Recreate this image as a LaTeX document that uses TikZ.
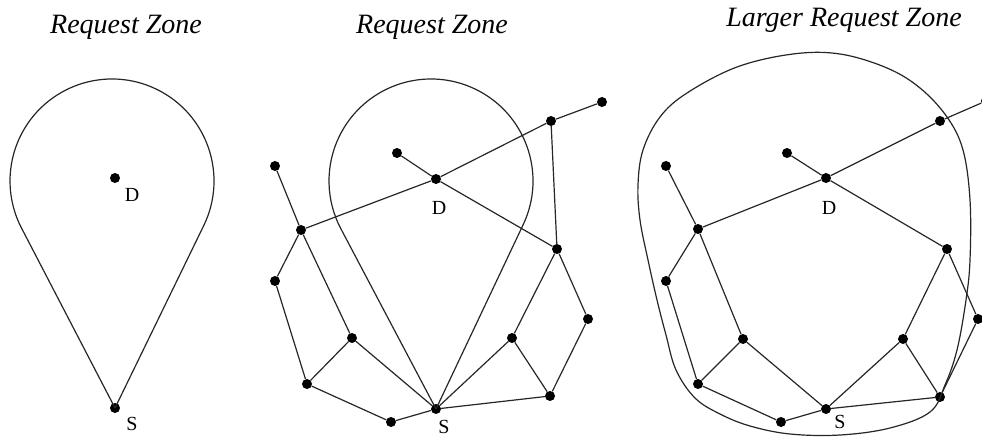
\documentclass[tikz,border=0pt]{standalone}
\usepackage{fontspec}
\setmainfont{Liberation Serif}
\usetikzlibrary{calc}
\begin{document}
\begin{tikzpicture}[x=1pt,y=-1pt,
  nd/.style={circle,fill=black,inner sep=0pt,minimum size=10pt},
  edge/.style={line width=1.2pt,black!85},
  zone/.style={line width=1.2pt,black!85},
  title/.style={font=\fontsize{28}{30}\selectfont\itshape},
  lab/.style={font=\fontsize{20}{21}\selectfont}]
\useasboundingbox (0,0) rectangle (982,438);
\clip (0,0) rectangle (982,438);

% titles
\node[title] (t1) at (126,27) {Request Zone};
\node[title] (t2) at (432,27) {Request Zone};
\node[title] (t3) at (844,20) {Larger Request Zone};

% ---------- panel 1 ----------
\coordinate (C1) at (112,181);
\node[nd] (D1) at (115,178) {};
\node[nd] (S1) at (115,408) {};
\draw[zone] (S1.center) -- ($(C1)+(25.94:102)$) arc[start angle=25.94,end angle=-207.46,radius=102] -- (S1.center);
\node[lab] (LD1) at (132,195) {D};
\node[lab] (LS1) at (132,424) {S};

% ---------- panel 2 ----------
\coordinate (C2) at (431,181);
\node[nd] (a2) at (275,166) {};
\node[nd] (b2) at (301,230) {};
\node[nd] (c2) at (275,281) {};
\node[nd] (d2) at (352,338) {};
\node[nd] (e2) at (307,384) {};
\node[nd] (f2) at (391,422) {};
\node[nd] (S2) at (436,409) {};
\node[nd] (g2) at (397,153) {};
\node[nd] (D2) at (436,179) {};
\node[nd] (h2) at (551,121) {};
\node[nd] (i2) at (602,102) {};
\node[nd] (j2) at (557,249) {};
\node[nd] (k2) at (588,319) {};
\node[nd] (l2) at (512,338) {};
\node[nd] (m2) at (550,396) {};
\draw[zone] (S2.center) -- ($(C2)+(25.31:102)$) arc[start angle=25.31,end angle=-207.83,radius=102] -- (S2.center);
\draw[edge] (a2)--(b2) (b2)--(d2) (b2)--(D2) (D2)--(h2) (h2)--(i2)
  (g2)--(D2) (D2)--(j2) (h2)--(j2) (b2)--(c2) (c2)--(e2) (e2)--(d2)
  (d2)--(S2) (e2)--(f2) (f2)--(S2) (j2)--(l2) (l2)--(S2) (l2)--(m2)
  (j2)--(k2) (k2)--(m2) (m2)--(S2);
\node[lab] (LD2) at (439,208) {D};
\node[lab] (LS2) at (444,427) {S};

% ---------- panel 3 ----------
\node[nd] (a3) at (666,166) {};
\node[nd] (b3) at (698,229) {};
\node[nd] (c3) at (666,281) {};
\node[nd] (d3) at (743,339) {};
\node[nd] (e3) at (698,384) {};
\node[nd] (f3) at (781,422) {};
\node[nd] (S3) at (826,409) {};
\node[nd] (g3) at (787,153) {};
\node[nd] (D3) at (826,178) {};
\node[nd] (h3) at (940,121) {};
\node[nd] (i3) at (986,101) {};
\node[nd] (j3) at (947,249) {};
\node[nd] (k3) at (978,319) {};
\node[nd] (l3) at (903,339) {};
\node[nd] (m3) at (940,397) {};
\draw[zone] plot[smooth cycle,tension=0.6] coordinates {
  (793,54) (840,54) (887,68) (920,88) (947,117) (963,150) (970,200)
  (970,260) (966,300) (957,350) (945,385) (930,412) (890,428)
  (840,435) (790,434) (750,426) (720,414) (695,398) (676,370)
  (666,335) (657,300) (648,260) (640,220) (638,185) (643,150)
  (660,117) (687,93) (737,67)};
\draw[edge] (a3)--(b3) (b3)--(d3) (b3)--(D3) (D3)--(h3) (h3)--(i3)
  (g3)--(D3) (D3)--(j3) (b3)--(c3) (c3)--(e3) (e3)--(d3)
  (d3)--(S3) (e3)--(f3) (f3)--(S3) (j3)--(l3) (l3)--(S3) (l3)--(m3)
  (j3)--(k3) (k3)--(m3) (m3)--(S3);
\node[lab] (LD3) at (829,208) {D};
\node[lab] (LS3) at (840,422) {S};
\end{tikzpicture}
\end{document}
